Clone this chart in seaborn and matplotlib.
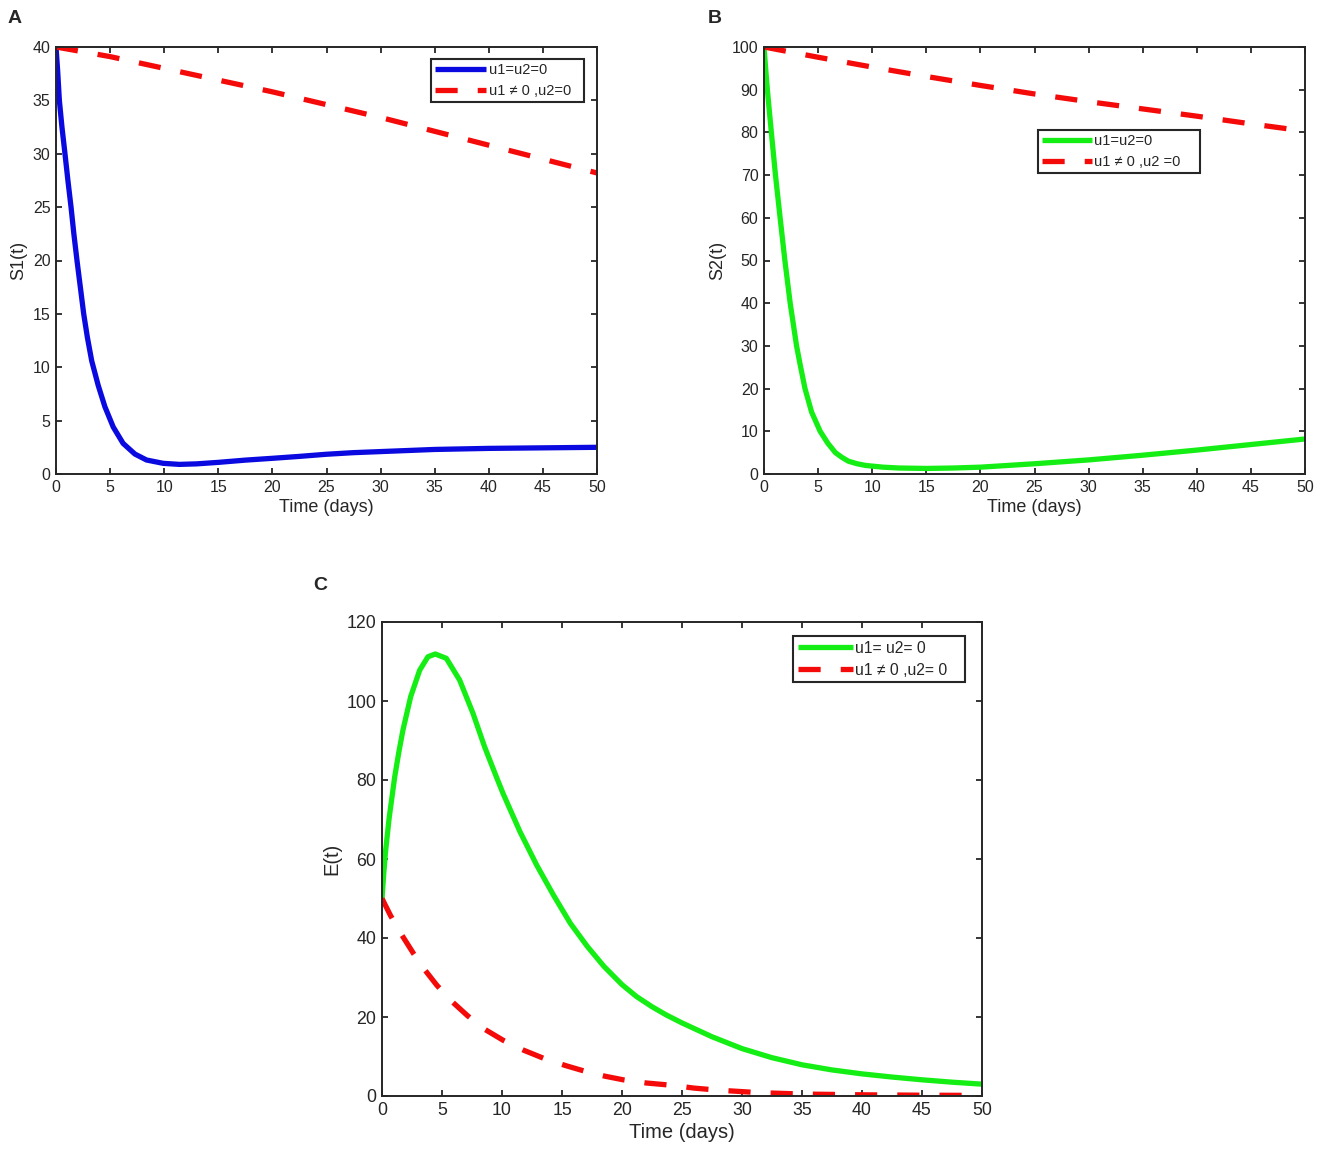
import matplotlib
matplotlib.use("Agg")
import matplotlib.pyplot as plt
import seaborn as sns

# ---------------- data ----------------
# Panel A : S1(t)
tA_free = [0, 0.15, 0.31, 0.55, 0.83, 1.1, 1.39, 1.65, 1.94, 2.25, 2.56, 2.9, 3.3,
           3.9, 4.52, 5.29, 6.2, 7.29, 8.37, 9.9, 11.4, 13, 15, 17.5, 20, 22.5,
           25, 27.5, 30, 35, 40, 45, 50]
S1_free = [40, 37.8, 35, 32.5, 30, 27.5, 25, 22.5, 20, 17.5, 15, 12.8, 10.6,
           8.3, 6.3, 4.4, 2.87, 1.87, 1.31, 1.0, 0.9, 0.95, 1.09, 1.3, 1.47, 1.65,
           1.85, 2.0, 2.1, 2.3, 2.4, 2.45, 2.5]
tA_ctrl = [0, 5, 10, 15, 20, 25, 30, 35, 40, 45, 50]
S1_ctrl = [40, 39.1, 38.0, 36.9, 35.8, 34.6, 33.4, 32.1, 30.8, 29.5, 28.2]

# Panel B : S2(t)
tB_free = [0, 0.15, 0.31, 0.68, 1.06, 1.49, 1.93, 2.42, 3.01, 3.35, 3.79, 4.4,
           5.19, 5.9, 6.6, 7.2, 7.8, 8.6, 9.4, 11, 12.5, 15, 17.5, 20, 25, 30,
           35, 40, 45, 50]
S2_free = [100, 95, 90, 80, 70, 60, 50, 40, 30, 25.5, 20, 14.5,
           10, 7.2, 5.0, 3.9, 3.0, 2.4, 2.0, 1.6, 1.4, 1.3, 1.4, 1.6, 2.4, 3.3,
           4.4, 5.6, 6.9, 8.2]
tB_ctrl = [0, 5, 10, 15, 20, 25, 30, 35, 40, 45, 50]
S2_ctrl = [100, 97.6, 95.3, 93.1, 91.0, 89.0, 87.2, 85.5, 83.8, 82.0, 80.3]

# Panel C : E(t)
tC_free = [0, 0.15, 0.3, 0.6, 1.06, 1.4, 1.75, 2.39, 3.14, 3.83, 4.44, 5.36, 6.47,
           7.58, 8.55, 9.53, 10.1, 11.5, 12.9, 14.3, 15.7, 17.1, 18.5, 20, 21.2,
           22.5, 23.7, 25, 27.5, 30, 32.5, 35, 37.5, 40, 42.5, 45, 47.5, 50]
E_free = [50, 56.5, 62, 70.5, 80.8, 87, 92.7, 101.1, 107.8, 111.2, 111.9, 110.8,
          105.3, 96.9, 88.4, 80.8, 76.5, 66.9, 58.4, 50.8, 43.7, 37.9, 32.8, 28.2,
          25.2, 22.6, 20.5, 18.5, 15.0, 12.0, 9.7, 7.9, 6.6, 5.6, 4.8, 4.1, 3.5, 3.0]
tC_ctrl = [0, 0.69, 1.6, 2.64, 3.6, 4.58, 5.8, 7.1, 8.5, 10.1, 11.8, 13.5, 15.3,
           17.1, 18.6, 20.1, 22, 24.2, 26, 27.9, 31.4, 35, 40, 45, 50]
E_ctrl = [50, 45.8, 41, 36, 31.8, 28, 24, 20.4, 17, 14.1, 11.6, 9.5, 7.7,
          6.1, 5.0, 4.1, 3.3, 2.7, 2.0, 1.5, 0.85, 0.5, 0.3, 0.2, 0.15]

x_ticks = list(range(0, 51, 5))
yticks_A = list(range(0, 41, 5))
yticks_B = list(range(0, 101, 10))
yticks_C = list(range(0, 121, 20))

# ---------------- style ----------------
sns.set_theme(style="ticks")
plt.rcParams['font.family'] = ['Liberation Sans', 'DejaVu Sans']
plt.rcParams.update({
    "xtick.direction": "in", "ytick.direction": "in",
    "xtick.top": True, "ytick.right": True,
    "axes.edgecolor": "#262626", "axes.linewidth": 1.4,
    "xtick.color": "#262626", "ytick.color": "#262626",
    "xtick.major.size": 4.5, "ytick.major.size": 4.5,
    "xtick.major.width": 1.3, "ytick.major.width": 1.3,
    "axes.labelcolor": "#262626",
})

W, H = 1325, 1160
fig = plt.figure(figsize=(W / 100, H / 100), dpi=100)


def add_ax(l, t, r, b):
    return fig.add_axes([l / W, 1 - b / H, (r - l) / W, (b - t) / H])


RED = "#f50a0a"
GREEN = "#14ee14"
BLUE = "#0a0ae0"


def draw(ax, t1, y1, c1, lab1, t2, y2, lab2, ylim, yticks, ylabel,
         fs_tick, fs_lab, box, fs_leg, hlen):
    sns.lineplot(x=t1, y=y1, ax=ax, color=c1, lw=3.8, sort=False,
                 estimator=None, label=lab1)
    sns.lineplot(x=t2, y=y2, ax=ax, color=RED, lw=3.8, sort=False,
                 estimator=None, label=lab2)
    ax.lines[-1].set_dashes([4.2, 3.8])
    for ln in ax.lines:
        ln.set_solid_capstyle("butt")
        ln.set_dash_capstyle("butt")
        ln.set_solid_joinstyle("round")
    ax.set_xlim(0, 50)
    ax.set_ylim(*ylim)
    ax.set_xticks(x_ticks)
    ax.set_yticks(yticks)
    ax.tick_params(labelsize=fs_tick, pad=4)
    ax.set_xlabel("Time (days)", fontsize=fs_lab, labelpad=3)
    ax.set_ylabel(ylabel, fontsize=fs_lab, labelpad=4)
    for s in ax.spines.values():
        s.set_visible(True)
    old = ax.get_legend()
    if old is not None:
        old.remove()
    x0, y0, x1, y1b = box
    leg = ax.legend(handles=ax.lines[:2], labels=[lab1, lab2],
                    loc="upper left",
                    bbox_to_anchor=(x0 / W, 1 - y1b / H, (x1 - x0) / W, (y1b - y0) / H),
                    bbox_transform=fig.transFigure, mode="expand",
                    borderaxespad=0, fontsize=fs_leg, handlelength=hlen,
                    handletextpad=0.15, labelspacing=0.45, borderpad=0.3,
                    fancybox=False, framealpha=1, edgecolor="#262626")
    leg.get_frame().set_linewidth(1.5)
    for txt in leg.get_texts():
        txt.set_color("#262626")


axA = add_ax(56, 47, 597, 474)
axB = add_ax(764, 47, 1305, 474)
axC = add_ax(382, 622, 982, 1096)

draw(axA, tA_free, S1_free, BLUE, "u1=u2=0", tA_ctrl, S1_ctrl, "u1 \u2260 0 ,u2=0",
     (0, 40), yticks_A, "S1(t)", 11.5, 13, (431, 59, 584, 104), 10.5, 3.5)
draw(axB, tB_free, S2_free, GREEN, "u1=u2=0", tB_ctrl, S2_ctrl, "u1 \u2260 0 ,u2 =0",
     (0, 100), yticks_B, "S2(t)", 11.5, 13, (1038, 130, 1200, 175), 10.5, 3.4)
draw(axC, tC_free, E_free, GREEN, "u1= u2= 0", tC_ctrl, E_ctrl, "u1 \u2260 0 ,u2= 0",
     (0, 120), yticks_C, "E(t)", 12.8, 14.5, (793, 636, 965, 685), 11.3, 3.5)

fig.text(8 / W, 1 - 10 / H, "A", fontsize=14, fontweight="bold", va="top", ha="left")
fig.text(708 / W, 1 - 10 / H, "B", fontsize=14, fontweight="bold", va="top", ha="left")
fig.text(313 / W, 1 - 577 / H, "C", fontsize=14, fontweight="bold", va="top", ha="left")

fig.savefig("out.png", dpi=100, facecolor="white")
